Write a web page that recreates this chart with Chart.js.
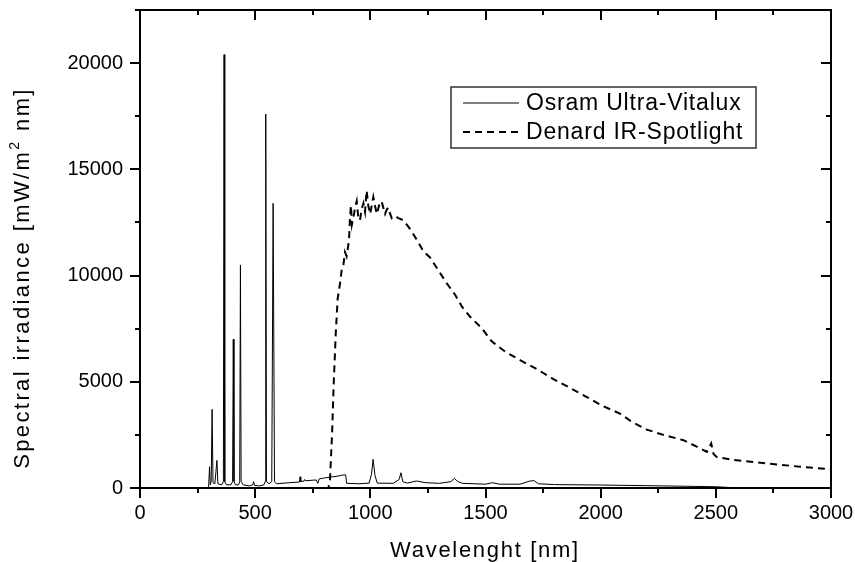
<!DOCTYPE html>
<html>
<head>
<title>Spectral irradiance</title>
<script src="https://cdn.jsdelivr.net/npm/chart.js"></script>
<style>
body { margin: 0; background: #fff; }
.wrap { position: relative; width: 855px; height: 562px; }
</style>
</head>
<body>
<div class="wrap"><canvas id="spectrum"></canvas></div>
<script>
// values
const osramNm = [290, 298, 302, 305, 309, 313, 317, 325, 334, 338, 355, 362, 365, 368, 375, 395, 402, 405, 408, 415,
  428, 433, 436, 439, 448, 475, 490, 493, 497, 520, 538, 543, 546, 549, 560, 572, 578, 584, 592, 650,
  692, 695, 698, 712, 715, 718, 765, 772, 778, 800, 830, 860, 880, 893, 897, 950, 995, 1005, 1012, 1020,
  1030, 1100, 1125, 1133, 1141, 1160, 1200, 1240, 1300, 1350, 1365, 1380, 1400, 1500, 1530, 1560, 1650, 1690, 1710, 1730,
  1800, 2000, 2200, 2500, 2600];
const osramVal = [0, 60, 1000, 150, 300, 3700, 250, 200, 1300, 200, 150, 300, 20400, 300, 150, 150, 300, 7000, 300, 150,
  150, 300, 10500, 300, 150, 100, 150, 300, 120, 100, 150, 300, 17600, 300, 200, 300, 13400, 300, 200, 250,
  280, 530, 300, 330, 400, 340, 380, 220, 430, 470, 520, 560, 610, 620, 220, 200, 230, 650, 1350, 600,
  230, 220, 400, 720, 300, 230, 330, 250, 220, 300, 450, 300, 220, 180, 250, 180, 180, 320, 350, 200,
  160, 140, 110, 60, 0];

const denardNm = [800, 818, 825, 834, 841, 850, 858, 868, 876, 883, 890, 897, 904, 908, 912, 916, 920, 926, 934, 941,
  948, 955, 962, 970, 977, 984, 991, 999, 1006, 1013, 1020, 1028, 1038, 1049, 1056, 1064, 1071, 1078, 1086, 1093,
  1108, 1122, 1144, 1172, 1201, 1230, 1259, 1295, 1332, 1368, 1397, 1433, 1484, 1527, 1585, 1650, 1730, 1795, 1860, 1932,
  2005, 2084, 2135, 2200, 2272, 2359, 2417, 2461, 2480, 2490, 2504, 2576, 2721, 2866, 3000];
const denardVal = [0, 0, 400, 2600, 4900, 7300, 8900, 9600, 10300, 10500, 11100, 10900, 11400, 11800, 12800, 13300, 12400, 12700, 13200, 13500,
  12700, 12600, 13100, 13400, 13000, 14000, 13300, 12900, 13300, 13700, 13300, 12900, 13300, 13500, 13200, 12900, 13100, 13200, 12900, 12700,
  12800, 12700, 12600, 12200, 11700, 11150, 10850, 10250, 9630, 9100, 8550, 8060, 7520, 6900, 6420, 6020, 5550, 5120, 4750, 4330,
  3880, 3500, 3120, 2750, 2500, 2250, 1950, 1700, 2100, 1600, 1460, 1320, 1160, 1000, 880];

const seriesNames = ['Osram Ultra-Vitalux', 'Denard IR-Spotlight'];
const xTickVals = [0, 500, 1000, 1500, 2000, 2500, 3000];
const yTickVals = [0, 5000, 10000, 15000, 20000];
const xRange = [0, 3000];
const yRange = [0, 22500];
const xMinor = 250, yMinor = 2500;

const FONT = '"Liberation Sans", Arial, sans-serif';

function toPoints(xs, ys) {
  return xs.map((x, i) => ({ x: x, y: ys[i] }));
}

// frame with ticks on all four sides (outward left/bottom, inward top/right)
const frameTicks = {
  id: 'frameTicks',
  afterDraw(chart) {
    const { ctx, chartArea: a, scales: { x, y } } = chart;
    ctx.save();
    ctx.strokeStyle = '#000';
    ctx.lineWidth = 2;
    ctx.strokeRect(a.left, a.top, a.right - a.left, a.bottom - a.top);
    ctx.beginPath();
    for (let v = xRange[0]; v <= xRange[1]; v += xMinor) {
      const px = Math.round(x.getPixelForValue(v));
      const len = xTickVals.includes(v) ? 10 : 5;
      ctx.moveTo(px, a.bottom); ctx.lineTo(px, a.bottom + len);
      ctx.moveTo(px, a.top); ctx.lineTo(px, a.top + len);
    }
    for (let v = yRange[0]; v <= yRange[1]; v += yMinor) {
      const py = Math.round(y.getPixelForValue(v));
      const len = yTickVals.includes(v) ? 10 : 5;
      ctx.moveTo(a.left, py); ctx.lineTo(a.left - len, py);
      ctx.moveTo(a.right, py); ctx.lineTo(a.right - len, py);
    }
    ctx.stroke();
    ctx.restore();
  }
};

// axis titles, spaced out a little like the original
const axisTitles = {
  id: 'axisTitles',
  afterDraw(chart) {
    const { ctx } = chart;
    ctx.save();
    ctx.fillStyle = '#000';
    ctx.letterSpacing = '1.7px';
    ctx.font = '22px ' + FONT;
    ctx.textAlign = 'center';
    ctx.textBaseline = 'alphabetic';
    ctx.fillText('Wavelenght [nm]', 485, 557);

    // y title with superscript 2
    ctx.letterSpacing = '2.4px';
    const parts = [['Spectral irradiance [mW/m', 22, 0], ['2', 14, -10], [' nm]', 22, 0]];
    let total = 0;
    parts.forEach(p => { ctx.font = p[1] + 'px ' + FONT; total += ctx.measureText(p[0]).width; });
    ctx.translate(29, 278);
    ctx.rotate(-Math.PI / 2);
    ctx.textAlign = 'left';
    let cx = -total / 2;
    parts.forEach(p => {
      ctx.font = p[1] + 'px ' + FONT;
      ctx.fillText(p[0], cx, p[2]);
      cx += ctx.measureText(p[0]).width;
    });
    ctx.restore();
  }
};

// boxed legend inside the plot
const boxLegend = {
  id: 'boxLegend',
  afterDraw(chart) {
    const { ctx } = chart;
    const box = { l: 451, t: 87, r: 756, b: 148 };
    ctx.save();
    ctx.strokeStyle = '#333';
    ctx.lineWidth = 1.5;
    ctx.strokeRect(box.l, box.t, box.r - box.l, box.b - box.t);
    ctx.font = '23px ' + FONT;
    ctx.letterSpacing = '0.8px';
    ctx.fillStyle = '#000';
    ctx.textBaseline = 'middle';
    chart.data.datasets.forEach((ds, i) => {
      const yy = 103 + i * 29;
      ctx.strokeStyle = ds.borderColor;
      ctx.lineWidth = ds.borderWidth;
      ctx.setLineDash(ds.borderDash || []);
      ctx.beginPath();
      ctx.moveTo(463, yy); ctx.lineTo(519, yy);
      ctx.stroke();
      ctx.setLineDash([]);
      ctx.fillText(ds.label, 526, yy + 1);
    });
    ctx.restore();
  }
};

new Chart(document.getElementById('spectrum'), {
  type: 'line',
  data: {
    datasets: [{
      label: seriesNames[0],
      data: toPoints(osramNm, osramVal),
      borderColor: '#000',
      borderWidth: 1,
      pointRadius: 0,
      tension: 0
    }, {
      label: seriesNames[1],
      data: toPoints(denardNm, denardVal),
      borderColor: '#000',
      borderWidth: 2,
      borderDash: [7, 5],
      pointRadius: 0,
      tension: 0
    }]
  },
  options: {
    responsive: true,
    maintainAspectRatio: false,
    animation: false,
    layout: { padding: { top: 10, right: 24, left: 0, bottom: 0 } },
    plugins: { legend: { display: false }, tooltip: { enabled: false } },
    scales: {
      x: {
        type: 'linear',
        min: xRange[0], max: xRange[1],
        grid: { display: false, drawTicks: false },
        border: { display: false },
        ticks: { color: '#000', padding: 15, maxRotation: 0, callback: v => String(v),
          font: { family: FONT, size: 20, lineHeight: 1 } },
        afterBuildTicks: s => { s.ticks = xTickVals.map(v => ({ value: v })); },
        afterFit: s => { s.height = 74; s.paddingLeft = 0; s.paddingRight = 0; }
      },
      y: {
        type: 'linear',
        min: yRange[0], max: yRange[1],
        grid: { display: false, drawTicks: false },
        border: { display: false },
        ticks: { color: '#000', padding: 17, callback: v => String(v),
          font: { family: FONT, size: 20, lineHeight: 1 } },
        afterBuildTicks: s => { s.ticks = yTickVals.map(v => ({ value: v })); },
        afterFit: s => { s.width = 140; s.paddingTop = 0; s.paddingBottom = 0; }
      }
    }
  },
  plugins: [frameTicks, axisTitles, boxLegend]
});
</script>
</body>
</html>
